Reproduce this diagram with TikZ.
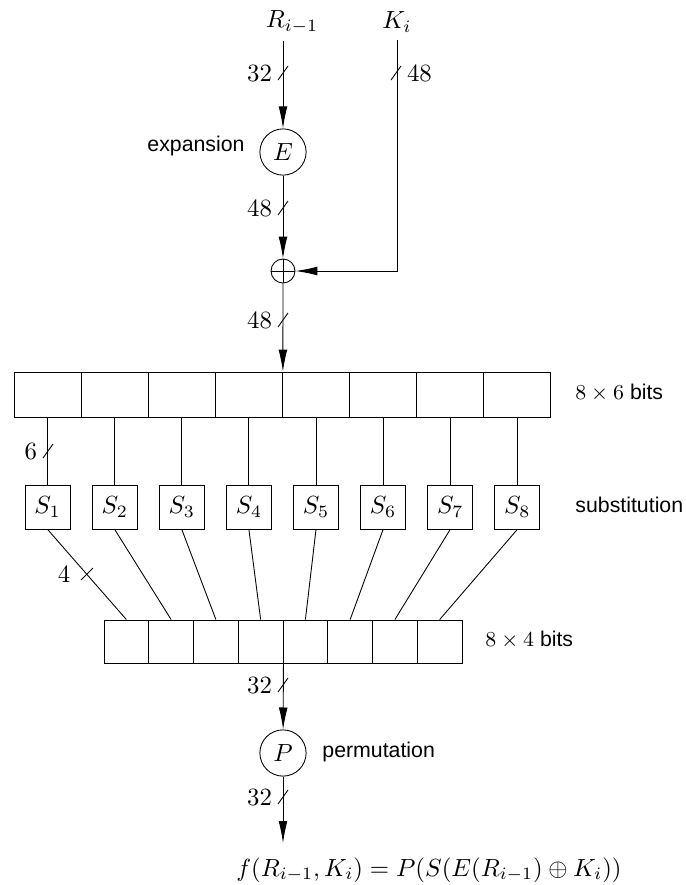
\RequirePackage{fix-cm}
\documentclass[tikz,border=0pt]{standalone}
\usepackage{fontspec}
\newfontfamily\descfont{Liberation Sans}
\usetikzlibrary{arrows.meta}

\tikzset{
  flow/.style={-{Latex[length=10pt,width=4pt]}},
  op/.style={draw, circle, minimum size=0.74cm, inner sep=0pt},
  xorop/.style={draw, circle, minimum size=0.384cm, inner sep=0pt,
    path picture={\draw (path picture bounding box.north) -- (path picture bounding box.south)
      (path picture bounding box.west) -- (path picture bounding box.east);}},
  cell/.style={draw, rectangle, minimum width=1.074cm, minimum height=0.72cm, inner sep=0pt},
  sbox/.style={draw, rectangle, minimum width=0.72cm, minimum height=0.704cm, inner sep=0pt},
  outcell/.style={draw, rectangle, minimum width=0.716cm, minimum height=0.688cm, inner sep=0pt},
  desc/.style={font=\fontsize{9.7}{12}\descfont, inner sep=0pt},
}

% slash on a bus with its width
\newcommand{\busmark}[3]{%
  \draw (#1) ++(-5,7) -- ++(10,-14);
  \node[#3=1.5pt] at (#1) {$#2$};
}

\begin{document}
\begin{tikzpicture}[x=0.016cm, y=-0.016cm, font=\fontsize{11.3}{14}\selectfont]
  \useasboundingbox (0,0) rectangle (686,885);

  % inputs and expansion
  \node (Rin) at (292,22) {$R_{i-1}$};
  \node (Kin) at (397,22) {$K_i$};
  \node[op] (E) at (283,152) {$E$};
  \node[desc, anchor=east] (expl) at (245,146) {expansion};
  \node[xorop] (xor) at (283,271) {};

  \draw[flow] (E |- Rin.south) -- (E);
  \draw[flow] (E) -- (xor);
  \draw[flow] (Kin.south) |- (xor);

  \coordinate (w1) at (283,73);
  \coordinate (w2) at (396,73);
  \coordinate (w3) at (283,208);
  \coordinate (w4) at (283,320);
  \busmark{w1}{32}{left}
  \busmark{w2}{48}{right}
  \busmark{w3}{48}{left}
  \busmark{w4}{48}{left}

  % 8 x 6 bits, S-boxes, 8 x 4 bits
  \foreach \i in {1,...,8}{
    \pgfmathsetmacro{\cx}{47.6+67.1*(\i-1)}
    \pgfmathsetmacro{\bx}{126.4+44.75*(\i-1)}
    \node[cell] (c\i) at (\cx,394.5) {};
    \node[sbox] (s\i) at (\cx,507) {$S_{\i}$};
    \node[outcell] (b\i) at (\bx,641.5) {};
    \draw (c\i) -- (s\i);
    \draw (s\i.south) -- (b\i.north);
  }
  \draw[flow] (xor) -- (c4.north east);

  \node[desc, anchor=west] (lbl6) at (575,393) {$8\times 6$ bits};
  \node[desc, anchor=west] (lblS) at (575,505) {substitution};
  \node[desc, anchor=west] (lbl4) at (485,640) {$8\times 4$ bits};

  \coordinate (w5) at (48,451);
  \busmark{w5}{6}{left}
  \coordinate (w6) at (87,574);
  \draw (w6) ++(-6,6) -- ++(12,-12);
  \node (n4) at (64,574) {$4$};

  % permutation and output
  \node[op] (P) at (283,753) {$P$};
  \node[desc, anchor=west] (perm) at (322,752) {permutation};
  \coordinate (out) at (283,843);
  \node (fout) at (429,870) {$f(R_{i-1},K_i) = P(S(E(R_{i-1}) \oplus K_i))$};

  \draw[flow] (b4.south east) -- (P);
  \draw[flow] (P) -- (out);

  \coordinate (w7) at (283,685);
  \coordinate (w8) at (283,797);
  \busmark{w7}{32}{left}
  \busmark{w8}{32}{left}
\end{tikzpicture}
\end{document}
